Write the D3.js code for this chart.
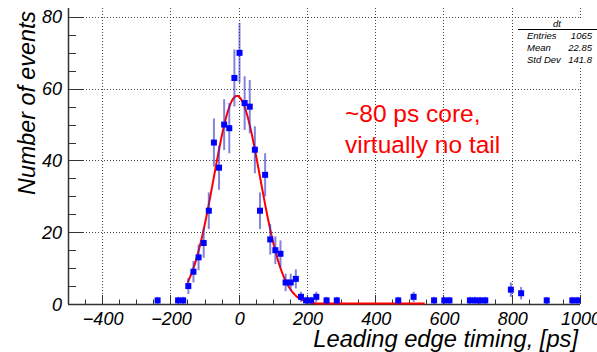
<!DOCTYPE html>
<html>
<head>
<meta charset="utf-8">
<script src="https://cdn.jsdelivr.net/npm/d3@7"></script>
<style>
  body { margin: 0; background: #fff; }
  svg text { font-family: 'Liberation Sans', Arial, sans-serif; }
</style>
</head>
<body>
<div id="chart"></div>
<script>
// histogram dt, 15 ps bins, only filled bins listed
const binCenters = [-237.5, -177.5, -162.5, -147.5, -132.5, -117.5, -102.5, -87.5, -72.5, -57.5,
  -42.5, -27.5, -12.5, 2.5, 17.5, 32.5, 47.5, 62.5, 77.5, 92.5,
  107.5, 122.5, 137.5, 152.5, 167.5, 182.5, 197.5, 212.5, 227.5, 257.5,
  287.5, 467.5, 512.5, 572.5, 602.5, 617.5, 677.5, 692.5, 707.5, 722.5,
  797.5, 827.5, 902.5, 977.5, 992.5];
const counts = [1, 1, 1, 5, 9, 13, 17, 26, 45, 38,
  50, 49, 63, 70, 56, 55, 43, 26, 36, 18,
  15, 14, 6, 6, 7, 2, 1, 1, 2, 1,
  1, 1, 2, 1, 1, 1, 1, 1, 1, 1,
  4, 3, 1, 1, 1];

// gaussian fit result
const fitConst = 58;
const fitMean = -5;
const fitSigma = 68;
const fitRange = [-150, 545];

const xTicks = [-400, -200, 0, 200, 400, 600, 800, 1000];
const yTicks = [0, 20, 40, 60, 80];

const statsTitle = 'dt';
const statsRows = [['Entries', '1065'], ['Mean', '22.85'], ['Std Dev', '141.8']];

const annotation = ['~80 ps core,', 'virtually no tail'];

const W = 597, H = 352;
const frame = { l: 68, r: 580, t: 8, b: 304 };

const svg = d3.select('#chart').append('svg')
  .attr('width', W)
  .attr('height', H);

const x = d3.scaleLinear().domain([-500, 1000]).range([frame.l, frame.r]);
const y = d3.scaleLinear().domain([0, 82.5]).range([frame.b, frame.t]);

// grid
const grid = svg.append('g').attr('class', 'grid')
  .attr('stroke', '#444').attr('stroke-width', 1).attr('stroke-dasharray', '1,2');
grid.selectAll('line.gx')
  .data(xTicks)
  .enter()
  .append('line')
  .attr('class', 'gx')
  .attr('x1', (d) => Math.round(x(d)) + 0.5)
  .attr('x2', (d) => Math.round(x(d)) + 0.5)
  .attr('y1', frame.t)
  .attr('y2', frame.b);
grid.selectAll('line.gy')
  .data(yTicks.filter((d) => d > 0))
  .enter()
  .append('line')
  .attr('class', 'gy')
  .attr('x1', frame.l)
  .attr('x2', frame.r)
  .attr('y1', (d) => Math.round(y(d)) + 0.5)
  .attr('y2', (d) => Math.round(y(d)) + 0.5);

// axes (ticks pointing into the frame, ROOT style)
const xMinor = d3.range(-500, 1001, 50);
const yMinor = d3.range(0, 81, 5);

const xAxisG = svg.append('g').attr('stroke', '#333');
xAxisG.append('line')
  .attr('x1', frame.l).attr('x2', frame.r)
  .attr('y1', frame.b + 0.5).attr('y2', frame.b + 0.5)
  .attr('stroke-width', 1.5);
xAxisG.selectAll('line.t')
  .data(xMinor)
  .enter()
  .append('line')
  .attr('class', 't')
  .attr('x1', (d) => Math.round(x(d)) + 0.5)
  .attr('x2', (d) => Math.round(x(d)) + 0.5)
  .attr('y1', frame.b)
  .attr('y2', (d) => frame.b - (d % 200 === 0 ? 9 : 4.5));

const yAxisG = svg.append('g').attr('stroke', '#333');
yAxisG.append('line')
  .attr('x1', frame.l + 0.5).attr('x2', frame.l + 0.5)
  .attr('y1', frame.t).attr('y2', frame.b)
  .attr('stroke-width', 1.5);
yAxisG.selectAll('line.t')
  .data(yMinor)
  .enter()
  .append('line')
  .attr('class', 't')
  .attr('x1', frame.l)
  .attr('x2', (d) => frame.l + (d % 20 === 0 ? 15 : 8))
  .attr('y1', (d) => Math.round(y(d)) + 0.5)
  .attr('y2', (d) => Math.round(y(d)) + 0.5);

// tick labels
svg.append('g')
  .selectAll('text')
  .data(xTicks)
  .enter()
  .append('text')
  .attr('x', (d) => x(d) + 1)
  .attr('y', 324.5)
  .attr('text-anchor', 'middle')
  .attr('font-size', 18)
  .attr('font-style', 'italic')
  .text((d) => (d < 0 ? '\u2212' + Math.abs(d) : d));

svg.append('g')
  .selectAll('text')
  .data(yTicks)
  .enter()
  .append('text')
  .attr('x', 62)
  .attr('y', (d) => y(d) + 6.5)
  .attr('text-anchor', 'end')
  .attr('font-size', 18)
  .attr('font-style', 'italic')
  .text((d) => d);

// axis titles
svg.append('text')
  .attr('x', 578)
  .attr('y', 347)
  .attr('text-anchor', 'end')
  .attr('font-size', 23.7)
  .attr('font-style', 'italic')
  .text('Leading edge timing, [ps]');

svg.append('text')
  .attr('transform', 'translate(35,11) rotate(-90)')
  .attr('text-anchor', 'end')
  .attr('font-size', 23.3)
  .attr('font-style', 'italic')
  .text('Number of events');

// fit curve
const fitPts = d3.range(fitRange[0], fitRange[1] + 0.1, 2.5).map((t) => [
  t,
  fitConst * Math.exp(-((t - fitMean) ** 2) / (2 * fitSigma * fitSigma)),
]);
svg.append('path')
  .datum(fitPts)
  .attr('fill', 'none')
  .attr('stroke', '#ff0000')
  .attr('stroke-width', 2)
  .attr('d', d3.line().x((d) => x(d[0])).y((d) => Math.min(y(d[1]), frame.b - 0.5)));

// data points with sqrt(N) errors
const pts = binCenters.map((c, i) => ({ c: c, n: counts[i] }));
svg.append('g')
  .selectAll('line')
  .data(pts)
  .enter()
  .append('line')
  .attr('x1', (d) => x(d.c))
  .attr('x2', (d) => x(d.c))
  .attr('y1', (d) => y(d.n + Math.sqrt(d.n)))
  .attr('y2', (d) => y(Math.max(0, d.n - Math.sqrt(d.n))))
  .attr('stroke', '#3030c8')
  .attr('stroke-opacity', 0.6)
  .attr('stroke-width', 2);

svg.append('g')
  .selectAll('rect')
  .data(pts)
  .enter()
  .append('rect')
  .attr('x', (d) => x(d.c) - 3)
  .attr('y', (d) => y(d.n) - 3)
  .attr('width', 6)
  .attr('height', 6)
  .attr('fill', '#0000ff');

// stats box
const stats = svg.append('g');
stats.append('rect')
  .attr('x', 518).attr('y', 19)
  .attr('width', 79).attr('height', 48)
  .attr('fill', '#fff');
stats.append('text')
  .attr('x', 557).attr('y', 27)
  .attr('text-anchor', 'middle')
  .attr('font-size', 9.5)
  .attr('font-style', 'italic')
  .text(statsTitle);
stats.append('line')
  .attr('x1', 518).attr('x2', 597)
  .attr('y1', 29.5).attr('y2', 29.5)
  .attr('stroke', '#000');
stats.selectAll('text.l')
  .data(statsRows)
  .enter()
  .append('text')
  .attr('class', 'l')
  .attr('x', 527)
  .attr('y', (d, i) => 39 + i * 12)
  .attr('font-size', 9.5)
  .attr('font-style', 'italic')
  .text((d) => d[0]);
stats.selectAll('text.v')
  .data(statsRows)
  .enter()
  .append('text')
  .attr('class', 'v')
  .attr('x', 592)
  .attr('y', (d, i) => 39 + i * 12)
  .attr('text-anchor', 'end')
  .attr('font-size', 9.5)
  .attr('font-style', 'italic')
  .text((d) => d[1]);

// annotation
svg.append('g')
  .selectAll('text')
  .data(annotation)
  .enter()
  .append('text')
  .attr('x', 345)
  .attr('y', (d, i) => 122 + i * 31)
  .attr('font-size', 24.5)
  .attr('fill', '#ff0000')
  .text((d) => d);
</script>
</body>
</html>
